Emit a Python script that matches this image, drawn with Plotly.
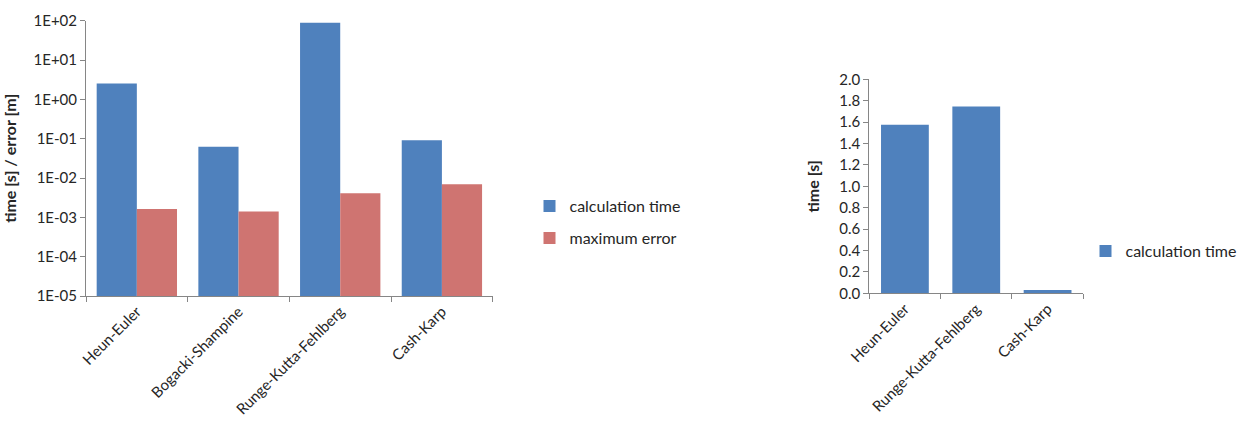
import plotly.graph_objects as go

methods_left = ["Heun-Euler", "Bogacki-Shampine", "Runge-Kutta-Fehlberg", "Cash-Karp"]
calc_time_left = [2.55, 0.062, 89, 0.092]
max_error_left = [1.62e-3, 1.4e-3, 4.1e-3, 6.9e-3]

methods_right = ["Heun-Euler", "Runge-Kutta-Fehlberg", "Cash-Karp"]
calc_time_right = [1.575, 1.745, 0.03]

log_tickvals = [1e-5, 1e-4, 1e-3, 1e-2, 1e-1, 1e0, 1e1, 1e2]
log_ticktext = ["1E-05", "1E-04", "1E-03", "1E-02", "1E-01", "1E+00", "1E+01", "1E+02"]

BLUE = "#4F81BD"
RED = "#CF7471"
AXIS = "#868686"
FONT = "Lato, Open Sans, sans-serif"
TXT = "#262626"

fig = go.Figure()
fig.add_trace(go.Bar(x=methods_left, y=calc_time_left, name="calculation time",
                     marker=dict(color=BLUE, line=dict(width=0)), showlegend=True,
                     xaxis="x", yaxis="y", legend="legend4"))
fig.add_trace(go.Bar(x=methods_left, y=max_error_left, name="maximum error",
                     marker=dict(color=RED, line=dict(width=0)), showlegend=True,
                     xaxis="x", yaxis="y", legend="legend3"))
fig.add_trace(go.Bar(x=methods_right, y=calc_time_right, name="calculation time",
                     marker=dict(color=BLUE, line=dict(width=0)), width=0.67, showlegend=True,
                     xaxis="x2", yaxis="y2", legend="legend2"))

axis_common = dict(showline=True, linecolor=AXIS, linewidth=1, ticks="outside",
                   tickcolor=AXIS, ticklen=5, showgrid=False, zeroline=False,
                   automargin=False,
                   tickfont=dict(family=FONT, size=15, color=TXT))

leg_common = dict(xanchor="left", yanchor="middle", font=dict(family=FONT, size=16, color=TXT),
                  itemwidth=30, bgcolor="rgba(0,0,0,0)", visible=True)

fig.update_layout(
    width=1250, height=428,
    margin=dict(l=0, r=0, t=0, b=0),
    paper_bgcolor="white", plot_bgcolor="white",
    showlegend=True,
    barmode="group", bargap=0.21, bargroupgap=0,
    font=dict(family=FONT, size=15, color=TXT),
    xaxis=dict(domain=[0.0688, 0.3942], anchor="y", type="category",
               tickson="boundaries", tickangle=-45, **axis_common),
    yaxis=dict(domain=[0.3084, 0.9516], anchor="x", type="log", range=[-5, 2],
               tickvals=log_tickvals, ticktext=log_ticktext,
               title=dict(text="<b>time [s] / error [m]</b>", font=dict(family=FONT, size=16, color=TXT)),
               **axis_common),
    xaxis2=dict(domain=[0.6954, 0.8666], anchor="y2", type="category",
                tickson="boundaries", tickangle=-45, **axis_common),
    yaxis2=dict(domain=[0.3147, 0.8147], anchor="x2", range=[0, 2], dtick=0.2,
                tickformat=".1f",
                title=dict(text="<b>time [s]</b>", font=dict(family=FONT, size=16, color=TXT)),
                **axis_common),
    legend4=dict(x=0.4236, y=1 - 206 / 428, **leg_common),
    legend3=dict(x=0.4236, y=1 - 238 / 428, **leg_common),
    legend2=dict(x=0.8684, y=1 - 251 / 428, **leg_common),
)

fig.write_html("out.html")
